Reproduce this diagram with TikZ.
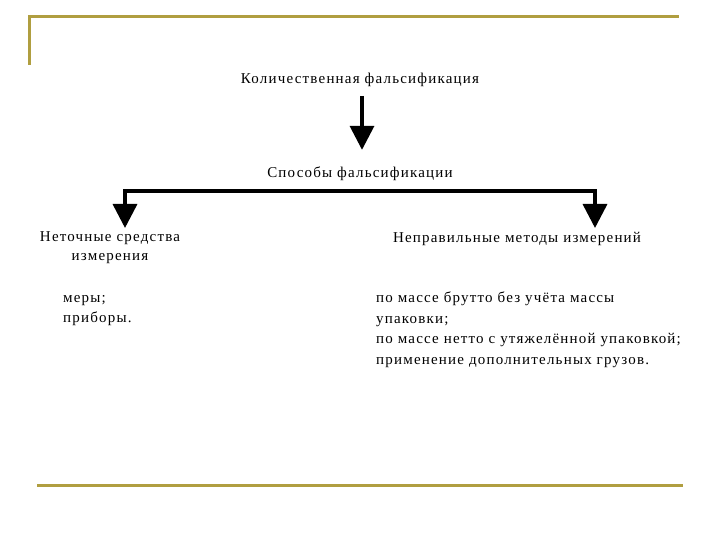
\documentclass[tikz,border=0pt]{standalone}
\usepackage{fontspec}
\setmainfont[LetterSpace=8]{Liberation Serif}
\usetikzlibrary{arrows.meta}
\definecolor{frame-gold}{RGB}{176,158,64}
\tikzset{
    frame-line/.style = {draw=frame-gold, line width=3pt},
    big-arrow/.style = {draw=black, line width=3.5pt, -{Triangle[width=24pt,length=24pt]}},
    heading/.style = {font=\fontsize{15}{19}\selectfont, inner sep=1pt, align=center},
    item-list/.style = {font=\fontsize{15}{20.5}\selectfont, inner sep=0pt, align=left, anchor=north west},
}

\begin{document}
\begin{tikzpicture}[x=1pt, y=-1pt]
\useasboundingbox (0,0) rectangle (720,540);
% slide frame
\draw[frame-line] (29,65) -- (29,17) -- (679,17);
\draw[frame-line] (37,485) -- (683,485);

\node[heading] (title) at (360,80) {Количественная фальсификация};
\node[heading] (ways) at (360,174) {Способы фальсификации};
\node[heading] (tools) at (110,248) {Неточные средства\\измерения};
\node[heading] (methods) at (517,239) {Неправильные методы измерений};

\node[item-list] (tools-list) at (63,295) {меры;\\приборы.};
\node[item-list] (methods-list) at (376,292) {по массе брутто без учёта массы\\упаковки;\\по массе нетто с утяжелённой упаковкой;\\применение дополнительных грузов.};

\coordinate (fork) at (360,191);
\coordinate (tools-tip) at (125,228);
\coordinate (methods-tip) at (595,228);

\draw[big-arrow, shorten <=8pt, shorten >=16pt] (title.south -| 362,0) -- (ways.north -| 362,0);
\draw[big-arrow] (fork) -| (tools-tip);
\draw[big-arrow] (fork) -| (methods-tip);
\end{tikzpicture}
\end{document}
